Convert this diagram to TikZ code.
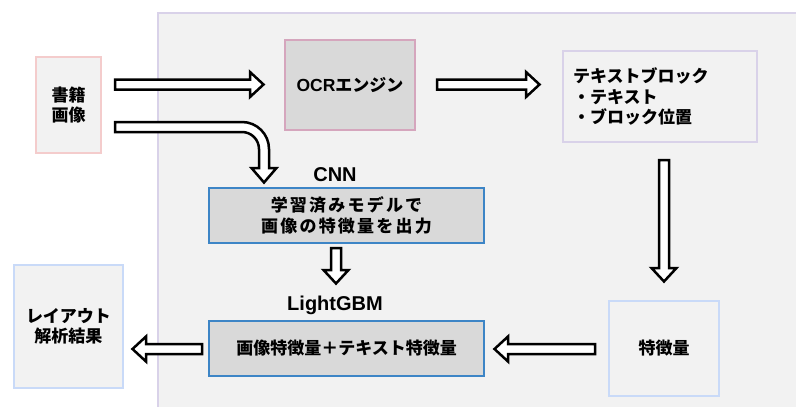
\documentclass[tikz,border=0pt]{standalone}
\usepackage{fontspec}
\setmainfont{Liberation Sans}
\newfontfamily\jp{Noto Sans CJK JP}
\usetikzlibrary{calc}
\definecolor{lightfill}{HTML}{F2F2F2}
\definecolor{darkfill}{HTML}{D9D9D9}
\definecolor{pinkline}{HTML}{F4CCCC}
\definecolor{mauveline}{HTML}{D5A6BD}
\definecolor{lavline}{HTML}{D9D2E9}
\definecolor{paleblue}{HTML}{C9DAF8}
\definecolor{blueline}{HTML}{3D85C6}
\newcommand\blockarrow[2]{%
  \draw[barrow] let \p1=($(#2)-(#1)$), \n1={atan2(\y1,\x1)}, \n2={veclen(\x1,\y1)} in
    [shift={(#1)}, rotate=\n1]
    (0pt,-5pt) -- (\n2-15pt,-5pt) -- (\n2-15pt,-12.5pt) -- (\n2-1.5pt,0pt)
    -- (\n2-15pt,12.5pt) -- (\n2-15pt,5pt) -- (0pt,5pt) -- cycle;}
\begin{document}
\begin{tikzpicture}[x=1pt,y=-1pt,
  jpfont/.style={font=\jp\bfseries\fontsize{17}{20.5}\selectfont},
  box/.style={draw, line width=2.5pt, fill=lightfill, inner sep=0pt, align=center, jpfont},
  graybox/.style={box, fill=darkfill},
  bluebox/.style={box, fill=darkfill, draw=blueline, line width=2.5pt},
  label/.style={font=\bfseries\fontsize{20}{24}\selectfont, inner sep=0pt},
  barrow/.style={draw=black, fill=white, line width=2.5pt, line join=miter}]
\useasboundingbox (0,0) rectangle (796,407);
% panel
\path[fill=lightfill, draw=lavline, line width=2.5pt] (158,13) rectangle (820,430);
% nodes
\node[box, draw=pinkline, minimum width=65pt, minimum height=96pt] (book) at (68.5,105) {書籍\\画像};
\node[graybox, draw=mauveline, minimum width=130pt, minimum height=90pt] (ocr) at (350,85)
  {{\rmfamily\fontsize{17.5}{20}\selectfont OCR}エンジン};
\node[box, draw=lavline, minimum width=194pt, minimum height=91pt, text width=174pt, inner xsep=10pt, align=left] (tb) at (660,96.5)
  {テキストブロック\\・テキスト\\・ブロック位置};
\node[box, draw=paleblue, minimum width=110pt, minimum height=95pt] (feat) at (664,348.5) {特徴量};
\node[bluebox, minimum width=275pt, minimum height=55pt] (cnn) at (346.5,215.5)
  {\addfontfeature{LetterSpace=13}学習済みモデルで\\\addfontfeature{LetterSpace=13}画像の特徴量を出力};
\node[bluebox, minimum width=275pt, minimum height=55pt] (lgbm) at (346.5,348.5) {画像特徴量＋テキスト特徴量};
\node[box, draw=paleblue, minimum width=109pt, minimum height=123pt] (layout) at (68.5,326.5) {レイアウト\\解析結果};
\node[label] (cnnlabel) at (335,175) {CNN};
\node[label] (lgbmlabel) at (335,305) {LightGBM};
% arrow end points
\coordinate (a1s) at (115,84.5);  \coordinate (a1e) at (265,84.5);
\coordinate (a2s) at (437,84.5);  \coordinate (a2e) at (541,84.5);
\coordinate (a3s) at (664,160);   \coordinate (a3e) at (664,283);
\coordinate (a4s) at (595,349);   \coordinate (a4e) at (493,349);
\coordinate (a5s) at (202,349);   \coordinate (a5e) at (131,349);
\coordinate (a6s) at (336,248);   \coordinate (a6e) at (336,285);
\blockarrow{a1s}{a1e}
\blockarrow{a2s}{a2e}
\blockarrow{a3s}{a3e}
\blockarrow{a4s}{a4e}
\blockarrow{a5s}{a5e}
\blockarrow{a6s}{a6e}
% curved arrow from book to CNN
\draw[barrow] (115,122) -- (242,122) arc[start angle=-90, end angle=0, radius=27]
  -- (269,168) -- (276.5,168) -- (264,182.5) -- (251.5,168) -- (259,168)
  -- (259,149) arc[start angle=0, end angle=-90, radius=17] -- (115,132) -- cycle;
\end{tikzpicture}
\end{document}
